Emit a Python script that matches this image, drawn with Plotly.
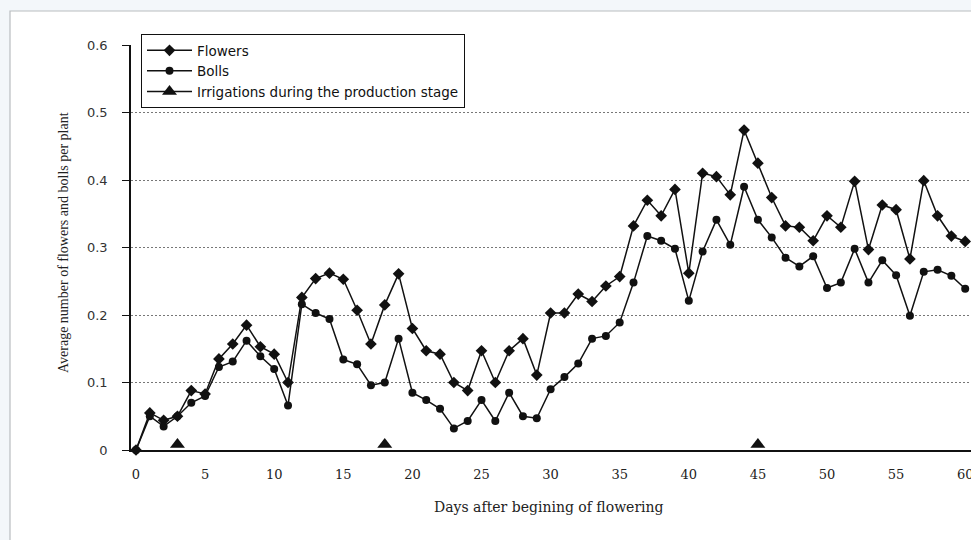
import plotly.graph_objects as go

# ---- data ----
days = list(range(0, 61))
flowers = [0, 0.055, 0.044, 0.05, 0.088, 0.083, 0.135, 0.157, 0.185, 0.153, 0.142,
           0.1, 0.226, 0.254, 0.262, 0.253, 0.207, 0.157, 0.215, 0.261, 0.18,
           0.147, 0.142, 0.1, 0.088, 0.147, 0.1, 0.147, 0.165, 0.111, 0.203,
           0.203, 0.231, 0.22, 0.243, 0.257, 0.332, 0.37, 0.347, 0.386, 0.262,
           0.41, 0.405, 0.378, 0.474, 0.425, 0.374, 0.332, 0.33, 0.31, 0.347,
           0.33, 0.398, 0.297, 0.363, 0.356, 0.283, 0.399, 0.347, 0.317, 0.309]
bolls = [0, 0.05, 0.035, 0.05, 0.07, 0.08, 0.123, 0.131, 0.162, 0.139, 0.12,
         0.066, 0.216, 0.203, 0.194, 0.134, 0.127, 0.096, 0.1, 0.165, 0.085,
         0.074, 0.061, 0.032, 0.043, 0.074, 0.043, 0.085, 0.05, 0.047, 0.09,
         0.108, 0.128, 0.165, 0.169, 0.189, 0.248, 0.317, 0.31, 0.298, 0.221,
         0.294, 0.341, 0.304, 0.39, 0.341, 0.315, 0.285, 0.272, 0.287, 0.24,
         0.248, 0.298, 0.248, 0.281, 0.259, 0.199, 0.264, 0.267, 0.258, 0.239]
irrigation_days = [3, 18, 45]
irrigation_level = [0.008, 0.008, 0.008]
x_ticks = [0, 5, 10, 15, 20, 25, 30, 35, 40, 45, 50, 55, 60]
y_ticks = [0, 0.1, 0.2, 0.3, 0.4, 0.5, 0.6]
y_tick_labels = ["0", "0.1", "0.2", "0.3", "0.4", "0.5", "0.6"]

# isolate every irrigation point so that only markers are drawn,
# while the legend still shows a line sample with the triangle
irr_x, irr_y = [], []
for d, v in zip(irrigation_days, irrigation_level):
    irr_x += [d, None]
    irr_y += [v, None]

INK = "#111111"
OUTER = "#f3f7fa"

fig = go.Figure()
fig.add_trace(go.Scatter(
    x=days, y=flowers, name="Flowers", mode="lines+markers",
    line=dict(color=INK, width=1.5),
    marker=dict(symbol="diamond", size=9, color=INK),
    cliponaxis=False))
fig.add_trace(go.Scatter(
    x=days, y=bolls, name="Bolls", mode="lines+markers",
    line=dict(color=INK, width=1.5),
    marker=dict(symbol="circle", size=8, color=INK),
    cliponaxis=False))
fig.add_trace(go.Scatter(
    x=irr_x, y=irr_y, name="Irrigations during the production stage",
    mode="lines+markers", connectgaps=False,
    line=dict(color=INK, width=1.5),
    marker=dict(symbol="triangle-up", size=13, color=INK),
    cliponaxis=False))

L, T, B, R = 131, 45, 90, 0
W, H = 971, 540
pw = W - L - R
ph = H - T - B
px_per_day = 13.82
x0 = -(136 - L) / px_per_day
x1 = x0 + pw / px_per_day

fig.update_layout(
    width=W, height=H,
    margin=dict(l=L, r=R, t=T, b=B, pad=0),
    paper_bgcolor=OUTER,
    plot_bgcolor="white",
    showlegend=True,
    legend=dict(
        x=(141 - L) / pw, y=(450 - 34) / ph, xanchor="left", yanchor="top",
        bgcolor="white", bordercolor=INK, borderwidth=1,
        font=dict(family="DejaVu Sans", size=13.5, color=INK),
        itemwidth=45, tracegroupgap=0,
    ),
    xaxis=dict(
        range=[x0, x1], tickvals=x_ticks, ticks="", showgrid=False,
        zeroline=False, showline=True, linecolor=INK, linewidth=1.5,
        tickfont=dict(family="DejaVu Serif", size=13, color="#222"),
        ticklabelstandoff=12, ticklabeloverflow="allow", automargin=False,
    ),
    yaxis=dict(
        range=[0, 0.6], tickvals=y_ticks, ticktext=y_tick_labels,
        ticks="outside", ticklen=7, tickwidth=1.2, tickcolor=INK,
        showgrid=True, gridcolor="#777777", gridwidth=1, griddash="1.5px,2.5px",
        zeroline=False, showline=True, linecolor=INK, linewidth=1.5,
        tickfont=dict(family="DejaVu Sans", size=13, color="#333"),
        ticklabelstandoff=12, automargin=False,
    ),
    shapes=[dict(
        type="rect", xref="paper", yref="paper",
        x0=(10 - L) / pw, x1=1.02, y0=-(B + 5) / ph, y1=(450 - 11) / ph,
        line=dict(color="#b9bdc0", width=1.2), fillcolor="white", layer="below",
    )],
    annotations=[
        dict(text="Days after begining of flowering", xref="paper", yref="paper",
             x=(549 - L) / pw, y=(450 - 507) / ph, xanchor="center", yanchor="middle",
             showarrow=False, font=dict(family="DejaVu Serif", size=14, color="#222")),
        dict(text="Average number of flowers and bolls per plant", xref="paper", yref="paper",
             x=(63 - L) / pw, y=(450 - 243) / ph, xanchor="center", yanchor="middle",
             textangle=-90, showarrow=False,
             font=dict(family="Liberation Serif", size=14, color="#222")),
    ],
)

fig.write_html(
    "out.html",
    config={"displayModeBar": False},
    post_script="document.body.style.margin='0';document.body.style.background='%s';" % OUTER,
)
